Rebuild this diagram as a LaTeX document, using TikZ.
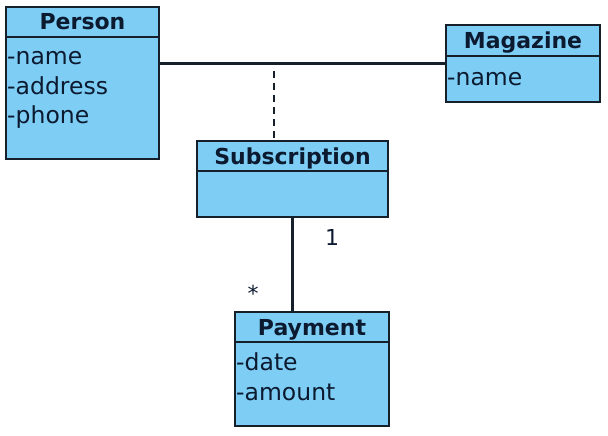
\documentclass[tikz,border=0pt]{standalone}
\usepackage{fontspec}
\setmainfont{DejaVu Sans}
\definecolor{umlfill}{RGB}{125,205,245}
\definecolor{umlline}{RGB}{22,32,42}
\definecolor{umltext}{RGB}{12,26,48}
\tikzset{
  classbox/.style={draw=umlline, fill=umlfill, line width=2.5pt, anchor=north west, inner sep=0pt, outer sep=0pt},
  classname/.style={anchor=base, text=umltext, font=\fontsize{22}{26}\selectfont\bfseries},
  attr/.style={anchor=base west, text=umltext, inner sep=0pt, font=\fontsize{23.5}{28}\selectfont},
  mult/.style={anchor=base, text=umltext, inner sep=0pt, font=\fontsize{22}{26}\selectfont},
  divider/.style={draw=umlline, line width=2.5pt},
  link/.style={draw=umlline, line width=2.2pt}
}
\begin{document}
\begin{tikzpicture}[x=1pt, y=-1pt]
        \useasboundingbox (0,0) rectangle (608,436);

        % Classes
        \node (person) [classbox, minimum width=153pt, minimum height=152pt] at (6,7) {};
        \node (magazine) [classbox, minimum width=154pt, minimum height=77pt] at (446,25) {};
        \node (subscription) [classbox, minimum width=191pt, minimum height=76pt] at (197,141) {};
        \node (payment) [classbox, minimum width=154pt, minimum height=114pt] at (235,312) {};

        % Header lines
        \draw[divider] (person.west |- 0,37) -- (person.east |- 0,37);
        \draw[divider] (magazine.west |- 0,56) -- (magazine.east |- 0,56);
        \draw[divider] (subscription.west |- 0,171) -- (subscription.east |- 0,171);
        \draw[divider] (payment.west |- 0,342) -- (payment.east |- 0,342);

        % Names and attributes
        \node (personname) [classname] at (82.5,30) {Person};
        \node (personattr1) [attr] at (7,65) {-name};
        \node (personattr2) [attr] at (7,95) {-address};
        \node (personattr3) [attr] at (7,124) {-phone};
        \node (magazinename) [classname] at (523,49) {Magazine};
        \node (magazineattr1) [attr] at (447,85) {-name};
        \node (subscriptionname) [classname] at (292.5,164) {Subscription};
        \node (paymentname) [classname] at (312,335) {Payment};
        \node (paymentattr1) [attr] at (236,370) {-date};
        \node (paymentattr2) [attr] at (236,400) {-amount};

        % Edges
        \coordinate (assoc) at (274,71);
        \draw[link] (person.east |- magazine.west) -- (magazine.west);
        \draw[link, dash pattern=on 7pt off 5pt] (assoc) -- (assoc |- subscription.north);
        \draw[link] (subscription.south) -- (subscription.south |- payment.north);

        % Multiplicities
        \node (one) [mult] at (332,245) {1};
        \node (many) [mult] at (253,301) {*};
    \end{tikzpicture}
\end{document}
